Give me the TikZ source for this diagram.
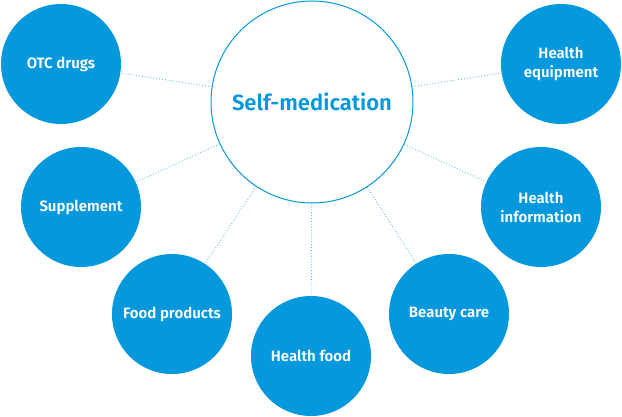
\documentclass[tikz,border=0pt]{standalone}
\usepackage{fontspec}
\setmainfont{Fira Sans}[BoldFont={Fira Sans SemiBold}]
\usepackage{tikz}
\usetikzlibrary{positioning}
\definecolor{brand}{HTML}{0598DC}
\definecolor{linkblue}{HTML}{62BCEA}

\begin{document}
\begin{tikzpicture}[x=1pt, y=-1pt,
    hub/.style={circle, draw=brand, line width=1pt, fill=white, minimum size=202pt, inner sep=0pt, text=brand, font=\bfseries\fontsize{22}{26}\selectfont},
    topic/.style={circle, fill=brand, minimum size=120pt, inner sep=0pt, align=center, text=white, font=\bfseries\fontsize{15}{19}\selectfont},
    link/.style={linkblue, line width=0.9pt, dotted}
]
\useasboundingbox (0,0) rectangle (622,416);

\node[hub] (self) at (312,102) {Self-medication};
\node[topic] (otc) at (61,64) {OTC drugs};
\node[topic] (supplement) at (81,207) {Supplement};
\node[topic] (food) at (172,314) {Food products};
\node[topic] (healthfood) at (311,356) {Health food};
\node[topic] (beauty) at (449,314) {Beauty care};
\node[topic] (info) at (541,207) {Health\\information};
\node[topic] (equipment) at (561,64) {Health\\equipment};

\draw[link] (self) -- (otc);
\draw[link] (self) -- (supplement);
\draw[link] (self) -- (food);
\draw[link] (self) -- (healthfood);
\draw[link] (self) -- (beauty);
\draw[link] (self) -- (info);
\draw[link] (self) -- (equipment);
\end{tikzpicture}
\end{document}
